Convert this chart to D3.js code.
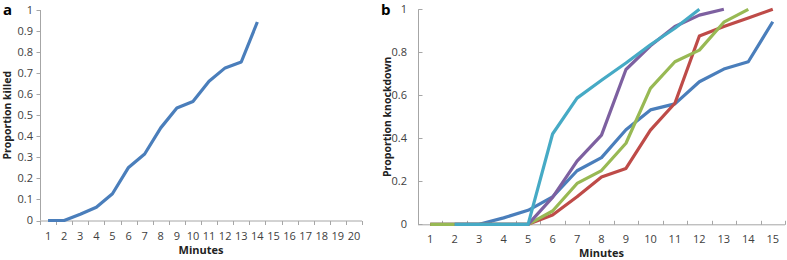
<!DOCTYPE html>
<html>
<head>
<meta charset="utf-8">
<script src="https://cdn.jsdelivr.net/npm/d3@7"></script>
<style>
  body { margin: 0; background: #fff; }
  text { font-family: "Open Sans", "Liberation Sans", sans-serif; }
</style>
</head>
<body>
<div id="chart"></div>
<script>
// panel a - proportion killed
const minutesA = d3.range(1, 21)
const killed = [0, 0, 0.03, 0.063, 0.127, 0.252, 0.316, 0.44, 0.534, 0.565, 0.662, 0.725, 0.753, 0.943]
const yTicksA = [0, 0.1, 0.2, 0.3, 0.4, 0.5, 0.6, 0.7, 0.8, 0.9, 1]

// panel b - proportion knockdown (null = no point)
const minutesB = d3.range(1, 16)
const kdBlue   = [0, 0, 0, 0.03, 0.065, 0.128, 0.249, 0.31, 0.44, 0.532, 0.56, 0.663, 0.722, 0.756, 0.942]
const kdRed    = [0, 0, 0, 0, 0, 0.043, 0.128, 0.22, 0.26, 0.438, 0.563, 0.876, 0.92, 0.96, 1]
const kdGreen  = [0, 0, 0, 0, 0, 0.062, 0.19, 0.25, 0.377, 0.632, 0.756, 0.81, 0.94, 1]
const kdPurple = [null, 0, 0, 0, 0, 0.125, 0.294, 0.415, 0.72, 0.83, 0.92, 0.973, 1]
const kdCyan   = [null, 0, 0, 0, 0, 0.42, 0.587, 0.67, 0.75, 0.835, 0.912, 1]
const yTicksB = [0, 0.2, 0.4, 0.6, 0.8, 1]

const seriesB = [
  { values: kdBlue, color: "#4a7ebb" },
  { values: kdRed, color: "#be4b48" },
  { values: kdGreen, color: "#98b954" },
  { values: kdPurple, color: "#7d60a0" },
  { values: kdCyan, color: "#46aac5" }
]

const width = 787
const height = 260
const axisColor = "#a6a6a6"
const labelColor = "#404040"

const svg = d3.select("#chart")
  .append("svg")
    .attr("width", width)
    .attr("height", height)

function drawPanel(opts) {
  const x = d3.scaleBand()
    .domain(opts.cats)
    .range([opts.left, opts.right])
  const y = d3.scaleLinear()
    .domain([0, 1])
    .range([opts.bottom, opts.top])
  const cx = c => x(c) + x.bandwidth() / 2
  const g = svg.append("g")

  // y axis line + ticks
  g.append("line")
    .attr("x1", opts.left + 0.5).attr("x2", opts.left + 0.5)
    .attr("y1", opts.top).attr("y2", opts.bottom)
    .attr("stroke", axisColor)
  g.selectAll(".ytick")
    .data(opts.yTicks)
    .join("line")
      .attr("x1", opts.left + 0.5)
      .attr("x2", opts.left + 0.5 + opts.tickDir * 4)
      .attr("y1", d => Math.round(y(d)) + 0.5)
      .attr("y2", d => Math.round(y(d)) + 0.5)
      .attr("stroke", axisColor)
  g.selectAll(".ylab")
    .data(opts.yTicks)
    .join("text")
      .attr("x", opts.left - opts.labelGap)
      .attr("y", d => y(d))
      .attr("dy", "0.35em")
      .attr("text-anchor", "end")
      .attr("font-size", 11)
      .attr("fill", labelColor)
      .text(d => d)

  // x axis line + boundary ticks
  g.append("line")
    .attr("x1", opts.left).attr("x2", opts.right)
    .attr("y1", opts.bottom + 0.5).attr("y2", opts.bottom + 0.5)
    .attr("stroke", axisColor)
  const bounds = opts.cats.map(c => x(c)).concat([opts.right])
  g.selectAll(".xtick")
    .data(bounds)
    .join("line")
      .attr("x1", d => Math.round(d) + 0.5)
      .attr("x2", d => Math.round(d) + 0.5)
      .attr("y1", opts.bottom + 0.5)
      .attr("y2", opts.bottom + 0.5 - opts.tickDir * 4)
      .attr("stroke", axisColor)
  g.selectAll(".xlab")
    .data(opts.cats)
    .join("text")
      .attr("x", d => cx(d))
      .attr("y", opts.bottom + opts.xLabGap)
      .attr("text-anchor", "middle")
      .attr("font-size", 11)
      .attr("fill", labelColor)
      .text(d => d)

  // titles
  g.append("text")
    .attr("x", (opts.left + opts.right) / 2)
    .attr("y", opts.xTitleY)
    .attr("text-anchor", "middle")
    .attr("font-size", 11)
    .attr("font-weight", "bold")
    .attr("fill", "#222")
    .text("Minutes")
  g.append("text")
    .attr("transform", `translate(${opts.yTitleX},${(opts.top + opts.bottom) / 2}) rotate(-90)`)
    .attr("text-anchor", "middle")
    .attr("font-size", 10.5)
    .attr("font-weight", "bold")
    .attr("fill", "#222")
    .text(opts.yTitle)
  g.append("text")
    .attr("x", opts.letterX)
    .attr("y", 15)
    .attr("font-size", 15)
    .attr("font-weight", "bold")
    .attr("font-family", "Liberation Sans, Arial, sans-serif")
    .attr("fill", "#000")
    .text(opts.letter)

  // lines
  const line = d3.line()
    .defined(d => d.v !== null)
    .x(d => cx(d.c))
    .y(d => y(d.v))
  opts.series.forEach(s => {
    const pts = s.values.map((v, i) => ({ c: opts.cats[i], v: v }))
    g.append("path")
      .attr("d", line(pts))
      .attr("fill", "none")
      .attr("stroke", s.color)
      .attr("stroke-width", 3.2)
      .attr("stroke-linejoin", "round")
  })
}

drawPanel({
  cats: minutesA, left: 40, right: 362, top: 10, bottom: 220.5,
  yTicks: yTicksA, tickDir: -1, labelGap: 7, xLabGap: 19, xTitleY: 254,
  yTitleX: 11, yTitle: "Proportion killed", letter: "a", letterX: 3,
  series: [{ values: killed, color: "#4a7ebb" }]
})

drawPanel({
  cats: minutesB, left: 418, right: 785, top: 9.3, bottom: 224.3,
  yTicks: yTicksB, tickDir: 1, labelGap: 11, xLabGap: 19, xTitleY: 257,
  yTitleX: 391, yTitle: "Proportion knockdown", letter: "b", letterX: 381,
  series: seriesB
})
</script>
</body>
</html>
